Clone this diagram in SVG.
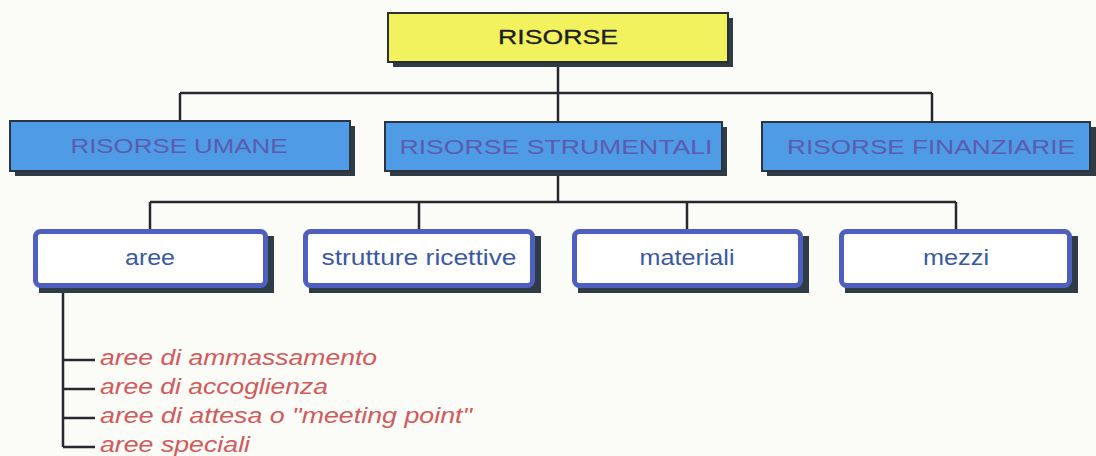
<svg xmlns="http://www.w3.org/2000/svg" width="1096" height="456" viewBox="0 0 1096 456">
<style>
.bg{fill:#fbfbf8}
.shadow{fill:#2f3c46}
.top{fill:#f2f25e;stroke:#2a2f33;stroke-width:2}
.l1{fill:#4f9be6;stroke:#2a3540;stroke-width:2}
.l2{fill:#ffffff;stroke:#4f5fbf;stroke-width:5}
.conn{stroke:#262a2e;stroke-width:2.5;fill:none}
text{font-family:"Liberation Sans",Arial,sans-serif;text-anchor:middle}
.t0{font-size:21px;fill:#1e1e1e;stroke:#1e1e1e;stroke-width:0.3}
.t1{font-size:21px;fill:#5a5cb0}
.t2{font-size:22px;fill:#3a58a8}
.t3{font-size:22px;fill:#d25a5a;font-style:italic;text-anchor:start}
</style>
<rect class="bg" x="0" y="0" width="1096" height="456"/>
<g id="connectors">
<path class="conn" d="M558 67 V93 M180 93 H932 M180 93 V120 M558 93 V122 M932 93 V122"/>
<path class="conn" d="M558 176 V202 M150 202 H956 M150 202 V229 M419 202 V229 M687 202 V229 M956 202 V229"/>
<path class="conn" d="M63 290 V447 M63 360 H95 M63 389 H95 M63 418 H95 M63 447 H95"/>
</g>
<g id="risorse">
<rect class="shadow" x="393" y="18" width="340" height="49"/>
<rect class="top" x="388" y="13" width="340" height="49"/>
<text class="t0" x="558" y="44" textLength="120" lengthAdjust="spacingAndGlyphs">RISORSE</text>
</g>
<g id="risorse-umane">
<rect class="shadow" x="15" y="126" width="340" height="50"/>
<rect class="l1" x="10" y="121" width="340" height="50"/>
<text class="t1" x="179" y="153" textLength="217" lengthAdjust="spacingAndGlyphs">RISORSE UMANE</text>
</g>
<g id="risorse-strumentali">
<rect class="shadow" x="390" y="127" width="337" height="49"/>
<rect class="l1" x="385" y="122" width="337" height="49"/>
<text class="t1" x="556" y="154" textLength="313" lengthAdjust="spacingAndGlyphs">RISORSE STRUMENTALI</text>
</g>
<g id="risorse-finanziarie">
<rect class="shadow" x="767" y="127" width="330" height="49"/>
<rect class="l1" x="762" y="122" width="328" height="49"/>
<text class="t1" x="931" y="154" textLength="288" lengthAdjust="spacingAndGlyphs">RISORSE FINANZIARIE</text>
</g>
<g id="aree">
<rect class="shadow" x="39" y="236" width="235" height="57"/>
<rect class="l2" x="35.5" y="231.5" width="230" height="54" rx="5"/>
<text class="t2" x="150" y="265" textLength="50" lengthAdjust="spacingAndGlyphs">aree</text>
</g>
<g id="strutture-ricettive">
<rect class="shadow" x="309" y="236" width="232" height="57"/>
<rect class="l2" x="305.5" y="231.5" width="227" height="54" rx="5"/>
<text class="t2" x="419" y="265" textLength="195" lengthAdjust="spacingAndGlyphs">strutture ricettive</text>
</g>
<g id="materiali">
<rect class="shadow" x="578" y="236" width="231" height="57"/>
<rect class="l2" x="574.5" y="231.5" width="226" height="54" rx="5"/>
<text class="t2" x="687" y="265" textLength="95" lengthAdjust="spacingAndGlyphs">materiali</text>
</g>
<g id="mezzi">
<rect class="shadow" x="845" y="236" width="233" height="57"/>
<rect class="l2" x="841.5" y="231.5" width="228" height="54" rx="5"/>
<text class="t2" x="956" y="265" textLength="66" lengthAdjust="spacingAndGlyphs">mezzi</text>
</g>
<g id="aree-list">
<text class="t3" x="100" y="365" textLength="277" lengthAdjust="spacingAndGlyphs">aree di ammassamento</text>
<text class="t3" x="100" y="394" textLength="228" lengthAdjust="spacingAndGlyphs">aree di accoglienza</text>
<text class="t3" x="100" y="423" textLength="372" lengthAdjust="spacingAndGlyphs">aree di attesa o "meeting point"</text>
<text class="t3" x="100" y="452" textLength="150" lengthAdjust="spacingAndGlyphs">aree speciali</text>
</g>
</svg>
